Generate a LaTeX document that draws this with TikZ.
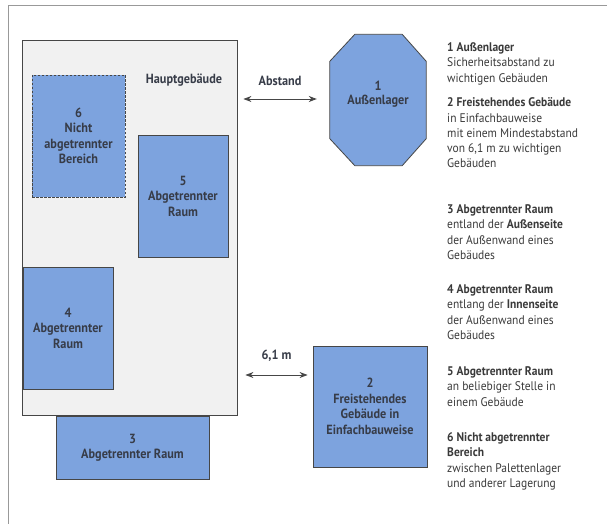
\documentclass[tikz,border=0pt]{standalone}
\usepackage{fontspec}
\setmainfont{PT Sans}[FakeStretch=0.92]
\usetikzlibrary{positioning,arrows.meta,backgrounds}
\definecolor{raumblau}{RGB}{125,163,222}
\definecolor{hausgrau}{RGB}{241,241,241}
\definecolor{linie}{RGB}{70,70,70}
\definecolor{schrift}{RGB}{58,58,58}
\definecolor{raumtext}{RGB}{55,60,72}
\begin{document}
\begin{tikzpicture}[x=1pt,y=-1pt,
  >={Stealth[length=8pt,width=6pt,inset=2.5pt]},
  room/.style={draw=linie,fill=raumblau,line width=0.8pt,align=center,inner sep=0pt,
               font=\bfseries\fontsize{13.3}{15.5}\selectfont,text=raumtext},
  haus/.style={draw=linie,fill=hausgrau,line width=0.8pt,inner sep=0pt},
  dist/.style={<->,draw=linie,line width=0.9pt},
  lbl/.style={font=\bfseries\fontsize{13.3}{15}\selectfont,text=raumtext},
  legend/.style={anchor=north west,align=left,inner sep=0pt,
                 font=\fontsize{12.5}{15.3}\selectfont,text=schrift},
  every node/.style={inner sep=1pt}]
  \useasboundingbox (0,0) rectangle (607,524);
  %  -- - frame  -- -
  \draw[gray!80,line width=1pt] (607,6) -- (8,6) -- (8,524);
  %  -- - main building  -- -
  \node[haus,minimum width=215pt,minimum height=375pt] (haupt) at (129.5,227.5) {};
  \node[lbl] (hlbl) at (184,80) {Hauptgebäude};
  \node[room,dash pattern=on 2.5pt off 1.5pt,minimum width=93pt,minimum height=122pt] (r6) at (78.5,136) {6\\Nicht\\abgetrennter\\Bereich};
  \node[room,minimum width=90pt,minimum height=122pt] (r5) at (183,196) {5\\Abgetrennter\\Raum};
  \node[room,minimum width=90pt,minimum height=122pt] (r4) at (68,328) {4\\Abgetrennter\\Raum};
  \node[room,minimum width=153pt,minimum height=63pt] (r3) at (132.5,447.5) {3\\Abgetrennter Raum};
  %  -- - outside storage  -- -
  \node[minimum width=96pt,minimum height=131pt,inner sep=0pt] (okt) at (378,100) {};
  \begin{scope}[on background layer]
    \draw[room] ([xshift=25pt]okt.north west) -- ([xshift=-24pt]okt.north east)
      -- ([yshift=-27pt]okt.north east) -- ([yshift=27pt]okt.south east)
      -- ([xshift=-24pt]okt.south east) -- ([xshift=25pt]okt.south west)
      -- ([yshift=27pt]okt.south west) -- ([yshift=-27pt]okt.north west) -- cycle;
  \end{scope}
  \node[room,draw=none,fill=none,font=\bfseries\fontsize{13.3}{13.5}\selectfont] (oktlbl) at ([yshift=6pt]okt.center) {1\\Außenlager};
  %  -- - free-standing building  -- -
  \node[room,minimum width=114pt,minimum height=121pt] (r2) at (370,406.5) {2\\Freistehendes\\Gebäude in\\Einfachbauweise};
  %  -- - distances  -- -
  \coordinate (aab) at (280,99);
  \node[lbl,above=12pt of aab] (abst) {Abstand};
  \draw[dist] ([xshift=6pt]haupt.east |- aab) -- ([xshift=-13pt]okt.west |- aab);
  \coordinate (a61) at (276.5,375);
  \node[lbl,above=12pt of a61] (m61) {6,1 m};
  \draw[dist] ([xshift=8pt]haupt.east |- a61) -- ([xshift=-5pt]r2.west |- a61);
  %  -- - legend  -- -
  \node[legend] (l1) at (447,42.5) {\textbf{1 Außenlager}\\Sicherheitsabstand zu\\wichtigen Gebäuden};
  \node[legend] (l2) at (447,97.5) {\textbf{2 Freistehendes Gebäude}\\in Einfachbauweise\\mit einem Mindestabstand\\von 6,1 m zu wichtigen\\Gebäuden};
  \node[legend] (l3) at (447,204.5) {\textbf{3 Abgetrennter Raum}\\entland der \textbf{Außenseite}\\der Außenwand eines\\Gebäudes};
  \node[legend] (l4) at (447,284.5) {\textbf{4 Abgetrennter Raum}\\entlang der \textbf{Innenseite}\\der Außenwand eines\\Gebäudes};
  \node[legend] (l5) at (447,366.5) {\textbf{5 Abgetrennter Raum}\\an beliebiger Stelle in\\einem Gebäude};
  \node[legend] (l6) at (447,432.5) {\textbf{6 Nicht abgetrennter}\\\textbf{Bereich}\\zwischen Palettenlager\\und anderer Lagerung};
\end{tikzpicture}
\end{document}
